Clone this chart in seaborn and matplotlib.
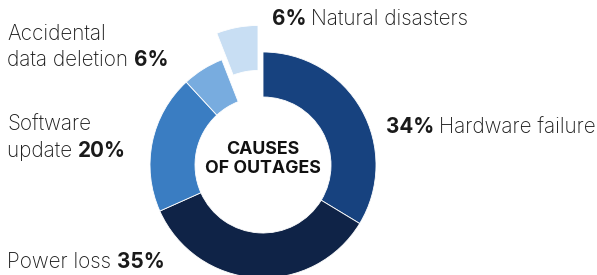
import matplotlib
matplotlib.use("Agg")
import matplotlib.pyplot as plt
import seaborn as sns

# slices, clockwise from 12 o'clock
causes = ["Hardware failure", "Power loss", "Software update",
          "Accidental data deletion", "Natural disasters"]
shares = [34, 35, 20, 6, 6]
colors = ["#17427f", "#0f2347", "#3a7dc2", "#78acdf", "#c8def3"]
explode = [0, 0, 0, 0, 27]   # pie() takes this in data units here

sns.set_theme(style="white")
plt.rcParams["font.family"] = ["Inter", "DejaVu Sans"]

fig = plt.figure(figsize=(5.97, 2.75), dpi=100)
ax = fig.add_axes([0, 0, 1, 1])

ax.pie(shares, colors=colors, explode=explode, startangle=90, counterclock=False,
       center=(263, 110), radius=113, frame=True,
       wedgeprops=dict(width=45, edgecolor="white", linewidth=0.6))
ax.set_xlim(0, 597)
ax.set_ylim(0, 275)
ax.axis("off")

FS = 14.9
txt = "#1a1a1a"


def label(x, y, light, bold, bold_first=False):
    # one line of mixed-weight text, y is baseline in pixels from the top
    if bold_first:
        t1 = ax.text(x, 275 - y, bold + " ", fontsize=FS, fontweight="bold",
                     color=txt, va="baseline", ha="left")
        ax.annotate(light, xy=(1, 0), xycoords=t1, fontsize=FS, fontweight="light",
                    color=txt, va="bottom", ha="left")
    else:
        t1 = ax.text(x, 275 - y, light + " ", fontsize=FS, fontweight="light",
                     color=txt, va="baseline", ha="left")
        ax.annotate(bold, xy=(1, 0), xycoords=t1, fontsize=FS, fontweight="bold",
                    color=txt, va="bottom", ha="left")


label(272, 25, causes[4], f"{shares[4]}%", bold_first=True)
label(386, 133, causes[0], f"{shares[0]}%", bold_first=True)
ax.text(7, 275 - 40, "Accidental", fontsize=FS, fontweight="light", color=txt, va="baseline")
label(7, 66, "data deletion", f"{shares[3]}%")
ax.text(7, 275 - 131, "Software", fontsize=FS, fontweight="light", color=txt, va="baseline")
label(7, 157, "update", f"{shares[2]}%")
label(7, 268, causes[1], f"{shares[1]}%")

ax.text(263, 275 - 159, "CAUSES\nOF OUTAGES", fontsize=12.8, fontweight="bold",
        color="#111111", ha="center", va="center", linespacing=1.2)

fig.savefig("out.png", dpi=100)
